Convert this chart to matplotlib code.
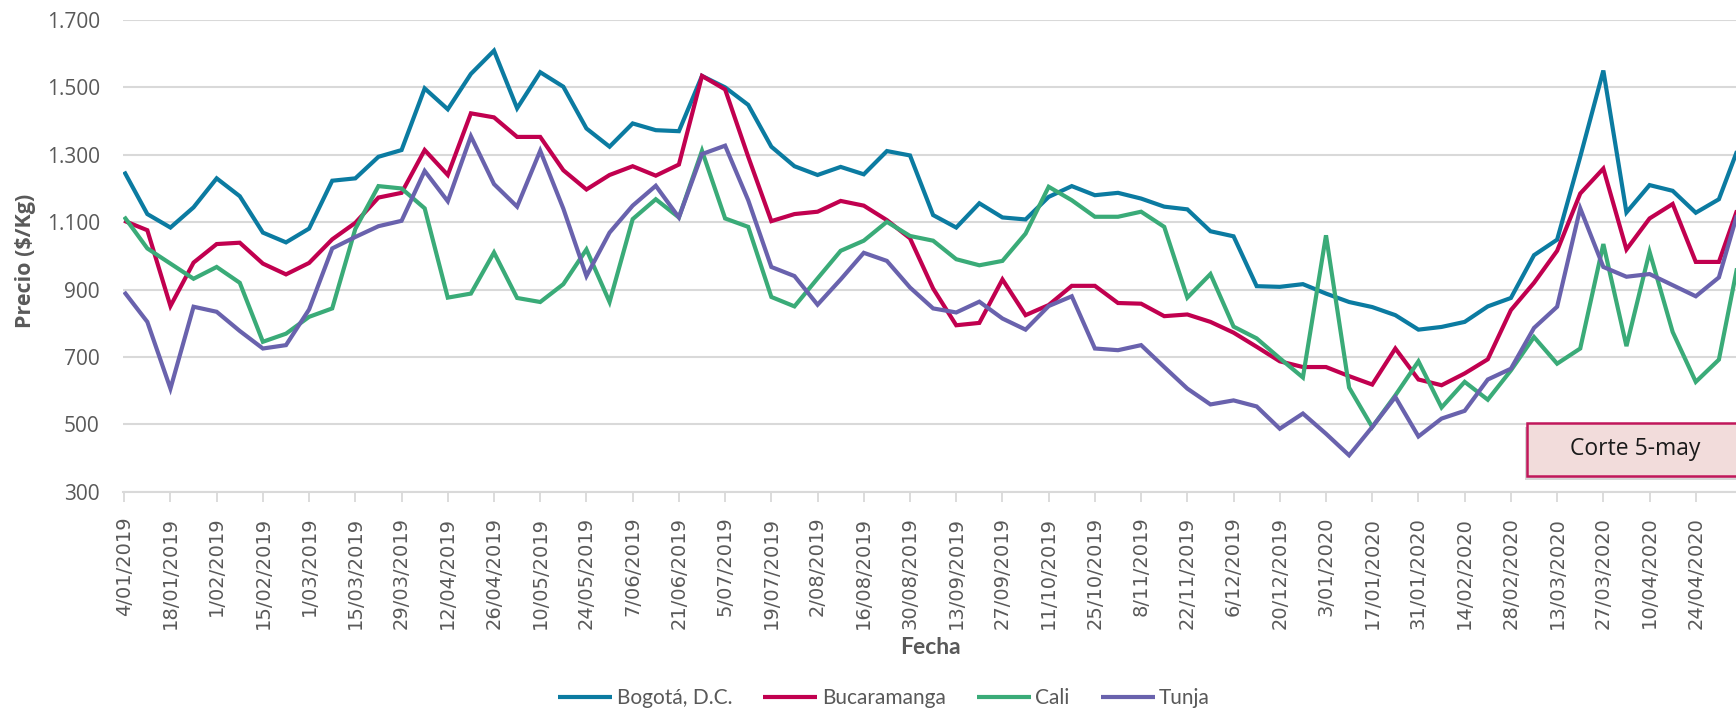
import matplotlib
matplotlib.use("Agg")
import matplotlib.pyplot as plt
import matplotlib.dates as mdates
from matplotlib.patches import Rectangle
import pandas as pd

# ---------------- data ----------------
fechas = pd.date_range("2019-01-04", periods=71, freq="7D")

bogota = [1250, 1124, 1084, 1144, 1230, 1177, 1069, 1040, 1081, 1223,
          1230, 1294, 1314, 1497, 1435, 1540, 1609, 1438, 1545, 1502,
          1378, 1324, 1393, 1373, 1370, 1534, 1500, 1448, 1324, 1266,
          1240, 1264, 1242, 1311, 1298, 1121, 1084, 1156, 1114, 1108,
          1175, 1207, 1180, 1187, 1170, 1146, 1138, 1073, 1058, 910,
          908, 916, 888, 863, 848, 824, 781, 789, 804, 850,
          875, 1002, 1048, 1294, 1550, 1129, 1210, 1193, 1128, 1168, 1350]

bucaramanga = [1104, 1076, 851, 980, 1035, 1039, 977, 945, 979, 1049,
               1098, 1173, 1187, 1314, 1240, 1423, 1411, 1353, 1353, 1254,
               1197, 1240, 1266, 1238, 1271, 1534, 1494, 1294, 1103, 1124,
               1131, 1163, 1149, 1106, 1052, 903, 794, 801, 930, 824,
               854, 911, 911, 860, 858, 821, 826, 804, 772, 730,
               687, 670, 670, 643, 618, 725, 633, 616, 651, 693,
               839, 920, 1015, 1185, 1259, 1019, 1111, 1154, 982, 982, 1177]

cali = [1116, 1022, 977, 932, 967, 920, 745, 769, 819, 844,
        1080, 1207, 1200, 1141, 876, 888, 1010, 875, 863, 916,
        1019, 863, 1109, 1168, 1114, 1312, 1111, 1086, 878, 850,
        933, 1015, 1045, 1101, 1059, 1045, 990, 972, 985, 1066,
        1205, 1165, 1116, 1116, 1131, 1086, 876, 946, 790, 755,
        696, 639, 1061, 609, 492, 586, 687, 550, 626, 573,
        660, 759, 680, 725, 1035, 732, 1012, 774, 626, 692, 1038]

tunja = [893, 804, 606, 849, 834, 777, 725, 735, 841, 1022,
         1056, 1088, 1104, 1252, 1162, 1355, 1213, 1146, 1312, 1140,
         940, 1069, 1149, 1208, 1114, 1302, 1327, 1165, 967, 940,
         855, 930, 1009, 985, 906, 844, 832, 864, 814, 781,
         851, 880, 725, 720, 735, 670, 606, 559, 571, 553,
         487, 532, 472, 408, 492, 581, 464, 517, 540, 633,
         665, 786, 849, 1141, 967, 938, 946, 913, 880, 936, 1172]

series_names = ["Bogotá, D.C.", "Bucaramanga", "Cali", "Tunja"]
series_colors = ["#0b7ba1", "#c1004f", "#3aab78", "#6962ad"]
y_ticks = [300, 500, 700, 900, 1100, 1300, 1500, 1700]
tick_dates = fechas[:69:2]
tick_labels = [f"{d.day}/{d.month:02d}/{d.year}" for d in tick_dates]
annotation_text = "Corte 5-may"

# ---------------- figure ----------------
W, H = 1736, 708
fig = plt.figure(figsize=(W / 100, H / 100), dpi=100)
ax_left, ax_bottom = 123.3 / W, (H - 491.7) / H
ax = fig.add_axes([ax_left, ax_bottom, 1 - ax_left, (491.7 - 20) / H])

x = mdates.date2num(fechas)
week = 7.0
for vals, name, col in zip([bogota, bucaramanga, cali, tunja], series_names, series_colors):
    ax.plot(x, vals, color=col, lw=3.0, label=name, solid_joinstyle="miter",
            solid_capstyle="butt", zorder=3)

ax.set_yticks(y_ticks)
ax.set_yticklabels([f"{v:,}".replace(",", ".") for v in y_ticks],
                   fontfamily="Open Sans", fontsize=15, color="#595959")
ax.tick_params(axis="y", length=0, pad=17)
ax.yaxis.grid(True, color="#d9d9d9", lw=1.5, zorder=0)

ax.set_xticks(mdates.date2num(tick_dates))
ax.set_xticklabels(tick_labels, rotation=90, fontfamily="DejaVu Sans",
                   fontsize=14, color="#595959")
ax.tick_params(axis="x", length=7, width=1.3, color="#d9d9d9", pad=11)

ax.set_xlim(x[0] - 0.04 * week, x[0] + 69.74 * week)
ax.set_ylim(300, 1700)

for s in ["top", "right", "left"]:
    ax.spines[s].set_visible(False)
ax.spines["bottom"].set_color("#d9d9d9")
ax.spines["bottom"].set_linewidth(1.5)

fig.text(25 / W, 1 - 261 / H, "Precio ($/Kg)", rotation=90, ha="center", va="center",
         fontfamily="Open Sans", fontweight="bold", fontsize=15.5, color="#595959")
fig.text(930 / W, 1 - 648 / H, "Fecha", ha="center", va="center",
         fontfamily="Lato", fontweight="bold", fontsize=16.5, color="#595959")

leg = fig.legend(loc="center", bbox_to_anchor=(884 / W, 1 - 698 / H), ncol=4,
                 frameon=False, handlelength=2.6, handletextpad=0.2,
                 columnspacing=1.5, prop={"family": "Lato", "size": 15})
for t in leg.get_texts():
    t.set_color("#595959")

# annotation box
bx0, by0, bx1, by1 = 1527, 423, 1745, 476
shadow = Rectangle(((bx0 - 2) / W, 1 - (by1 + 4) / H), (bx1 - bx0) / W, (by1 - by0) / H,
                   transform=fig.transFigure, facecolor="#bbbbbb", edgecolor="none",
                   alpha=0.6, zorder=9)
box = Rectangle((bx0 / W, 1 - by1 / H), (bx1 - bx0) / W, (by1 - by0) / H,
                transform=fig.transFigure, facecolor="#f2dcdb", edgecolor="#c1185b",
                lw=1.8, zorder=10)
fig.add_artist(shadow)
fig.add_artist(box)
fig.text(1635 / W, 1 - 449 / H, annotation_text, ha="center", va="center",
         fontfamily="Open Sans", fontsize=16.5, color="#1a1a1a", zorder=11)

fig.savefig("out.png", dpi=100)
